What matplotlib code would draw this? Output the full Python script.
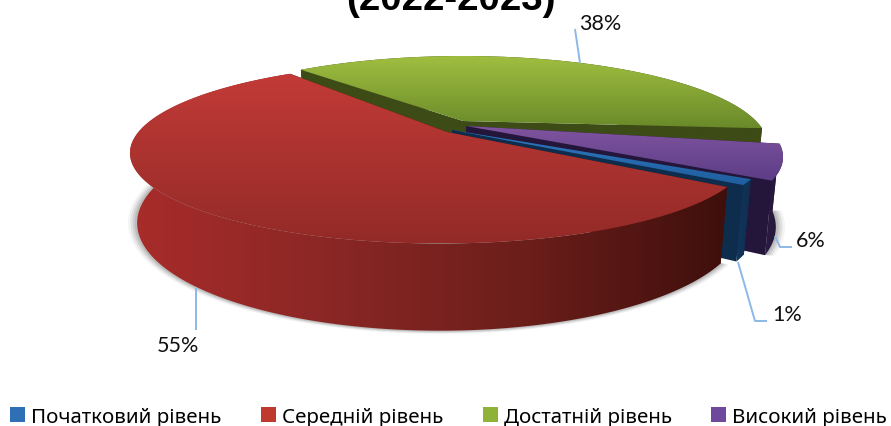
import numpy as np
import matplotlib
matplotlib.use("Agg")
import matplotlib.pyplot as plt
from matplotlib.colors import LinearSegmentedColormap
from matplotlib.patches import Patch, Polygon

# Дані діаграми
levels = ["Початковий рівень", "Середній рівень", "Достатній рівень", "Високий рівень"]
percents = [1, 55, 38, 6]
title_text = "(2022-2023)"

W, H = 891, 427
START_ANGLE = -31   # where the first slice begins, goes clockwise

# per slice look: apex and ellipse of the top face, in pixels
apex = [(452, 131), (447, 133), (463, 122), (466, 127)]
center = [(447, 152), (440, 154), (463, 147), (471, 158)]
rx = [320, 310, 305, 312]
ry = [90, 90.5, 90, 90]
nudge = [0, 0, 4.5, -2.5]   # degrees, the picture is not a clean projection
legend_colors = ["#2f6fb5", "#c0392f", "#8fb339", "#6f4a9c"]
top_grad = [("#3277bd", "#1f5fa0"), ("#c23b38", "#932a27"), ("#a0bf40", "#6a8a2a"), ("#80549f", "#5c3d86")]
wall_grad = [("#12355c", "#0f2f50"), ("#a82c2a", "#8a2725", "#6b1e1a", "#3e0f0c"),
             ("#3d4b16", "#3d4b16"), ("#2c1b42", "#24163a")]
cut_color = ["#0e2c4c", "#3e0f0c", "#3d4b16", "#24163a"]
draw_order = [2, 3, 0, 1]

DROP = 70
RX_LOW = 0.977
RY_LOW = 1.19

plt.rcParams["font.family"] = ["Noto Sans", "DejaVu Sans"]
fig = plt.figure(figsize=(W / 100, H / 100), dpi=100)
ax = fig.add_axes([0, 0, 1, 1])
ax.axis("off")

zcount = [1]


def next_z():
    zcount[0] += 1
    return zcount[0]


def rim(i, theta, low=False, grow=1.0):
    """Point(s) on the edge of slice i, perspective comes from the apex being off centre."""
    px = (apex[i][0] - center[i][0]) / rx[i]
    py = (center[i][1] - apex[i][1]) / ry[i]
    p = complex(px, py)
    c = p / (1 + np.sqrt(1 - abs(p) ** 2))
    z = np.exp(1j * np.radians(theta + nudge[i]))
    w = (z + c) / (1 + np.conj(c) * z)
    if low:
        return (center[i][0] + grow * rx[i] * RX_LOW * w.real,
                center[i][1] + DROP - grow * ry[i] * RY_LOW * w.imag)
    return center[i][0] + rx[i] * w.real, center[i][1] - ry[i] * w.imag


def apex_low(i):
    px = (apex[i][0] - center[i][0]) * RX_LOW
    py = (apex[i][1] - center[i][1]) * RY_LOW
    return center[i][0] + px, center[i][1] + DROP + py


def gradient_fill(xs, ys, colors, vertical=True):
    z = next_z()
    cmap = LinearSegmentedColormap.from_list("g", colors)
    g = np.linspace(0, 1, 256)
    g = g.reshape(-1, 1) if vertical else g.reshape(1, -1)
    poly = Polygon(np.column_stack([xs, ys]), closed=True, fc="none", ec="none", zorder=z)
    ax.add_patch(poly)
    im = ax.imshow(g, cmap=cmap, aspect="auto", origin="upper", zorder=z,
                   extent=(min(xs), max(xs), max(ys), min(ys)))
    im.set_clip_path(poly)


shares = np.array(percents) / sum(percents) * 360
ends = START_ANGLE - np.cumsum(shares)
starts = ends + shares

# soft grey shadow under the pie, few layers
for grow, alpha in zip([1.03, 1.022, 1.015, 1.008], [0.07, 0.10, 0.13, 0.16]):
    for i in (1, 3):
        sx, sy = rim(i, np.linspace(starts[i], ends[i], 200), low=True, grow=grow)
        ox, oy = apex_low(i)
        ax.add_patch(Polygon(np.column_stack([np.r_[ox, sx], np.r_[oy, sy]]),
                             closed=True, fc="#555555", ec="none", alpha=alpha, zorder=1))

# slices
for i in draw_order:
    a0, a1 = starts[i], ends[i]
    arc = np.linspace(a0, a1, 200)
    ax0, ay0 = apex[i]
    lx0, ly0 = apex_low(i)
    # cut faces
    for edge in (a0, a1):
        xt, yt = rim(i, edge)
        xb, yb = rim(i, edge, low=True)
        ax.add_patch(Polygon([(ax0, ay0), (xt, yt), (xb, yb), (lx0, ly0)],
                             closed=True, fc=cut_color[i], ec="none", zorder=next_z()))
    # outer wall
    xt, yt = rim(i, arc)
    xb, yb = rim(i, arc, low=True)
    gradient_fill(np.r_[xt, xb[::-1]], np.r_[yt, yb[::-1]], wall_grad[i], vertical=False)
    # top
    gradient_fill(np.r_[ax0, xt], np.r_[ay0, yt], top_grad[i], vertical=True)

# leader lines and labels
leaders = [[(738, 263), (755, 322), (767, 322)],
           [(196, 289), (196, 331)],
           [(580, 64), (575, 30)],
           [(775, 237), (780, 248), (792, 248)]]
label_pos = [(772, 315), (157, 346), (579, 24), (796, 241)]
z = next_z()
for pts, pos, p in zip(leaders, label_pos, percents):
    ax.plot(*zip(*pts), color="#8db8e8", lw=1.4, zorder=z, solid_capstyle="butt")
    ax.text(pos[0], pos[1], f"{p}%", fontsize=15.5, family=["Lato", "Noto Sans"],
            ha="left", va="center", color="#111111", zorder=z)

ax.text(451, 10, title_text, fontsize=27.7, fontweight="bold", family=["Liberation Sans"],
        ha="center", va="baseline", color="black", zorder=z)

fs_px = 20.5
handles = [Patch(fc=c, ec="none", label=l) for c, l in zip(legend_colors, levels)]
ax.legend(handles=handles, ncol=4, frameon=False, fontsize=fs_px * 0.72, loc="center left",
          bbox_to_anchor=(10, 417.8), bbox_transform=ax.transData, borderpad=0, borderaxespad=0,
          handlelength=15 / fs_px, handleheight=0.75, handletextpad=6 / fs_px,
          columnspacing=39.5 / fs_px).set_zorder(z)

ax.set_xlim(0, W)
ax.set_ylim(H, 0)
fig.savefig("out.png", dpi=100)
